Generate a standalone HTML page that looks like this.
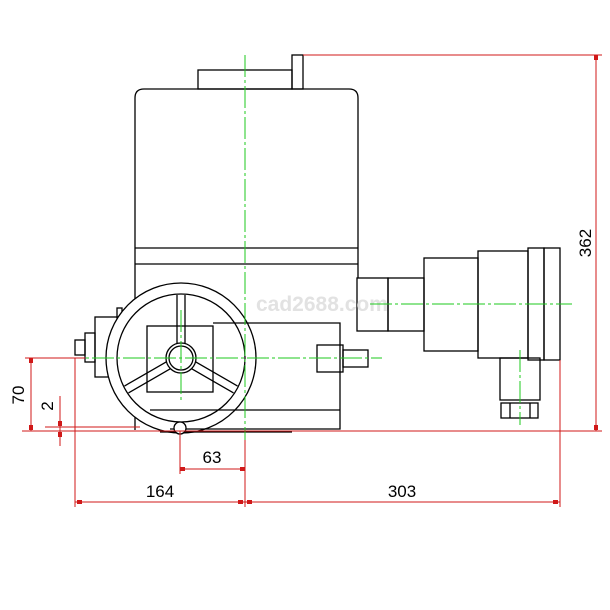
<!DOCTYPE html>
<html><head><style>body{margin:0;background:#fff}svg{display:block}</style></head><body>
<svg width="610" height="610" viewBox="0 0 610 610" xmlns="http://www.w3.org/2000/svg">
<rect width="610" height="610" fill="#fff"/>
<g fill="none" stroke="#000" stroke-width="1.3">
<path d="M135,430 V98 Q135,89 144,89 H349 Q358,89 358,98 V278"/>
<line x1="135" y1="248" x2="358" y2="248"/><line x1="135" y1="264" x2="358" y2="264"/>
<rect x="198" y="70" width="94" height="19"/><rect x="292" y="55" width="11" height="34"/>
<rect x="357" y="278" width="31" height="53"/><rect x="388" y="278" width="36" height="53"/>
<rect x="424" y="258" width="54" height="93"/><rect x="478" y="251" width="50" height="107"/>
<rect x="528" y="248" width="16" height="112"/><rect x="544" y="248" width="16" height="112"/>
<rect x="500" y="358" width="40" height="42"/><rect x="501" y="403" width="37" height="15"/>
<line x1="510" y1="403" x2="510" y2="418"/><line x1="530" y1="403" x2="530" y2="418"/>
<rect x="317" y="345" width="26" height="27"/><rect x="343" y="350" width="25" height="17"/>
<rect x="95" y="317" width="30" height="60"/><rect x="85" y="333" width="10" height="29"/><rect x="75" y="340" width="10" height="15"/>
<rect x="117" y="308" width="5" height="10"/>
<circle cx="181" cy="358" r="75" fill="#fff"/>
<path d="M213,323 H340 V429 H170"/><line x1="150" y1="410" x2="340" y2="410"/>
<line x1="160" y1="432" x2="292" y2="432"/>
<rect x="147" y="326" width="66" height="66"/>
<circle cx="181" cy="358" r="64"/>
<g transform="translate(181,358)">
<path d="M-4,-14 V-63 M4,-14 V-63"/>
<g transform="rotate(120)"><path d="M-4,-14 V-63 M4,-14 V-63"/></g>
<g transform="rotate(240)"><path d="M-4,-14 V-63 M4,-14 V-63"/></g>
<circle r="15" fill="#fff"/><circle r="12"/>
</g>
<circle cx="180" cy="428" r="6" fill="#fff"/>
</g>
<text x="256" y="311" font-family="Liberation Sans, sans-serif" font-weight="bold" font-size="21" fill="#e2e2e2">cad2688.com</text>
<g stroke="#1ec81e" stroke-width="1" stroke-dasharray="22,3,3,3" fill="none">
<line x1="245" y1="55" x2="245" y2="440"/>
<line x1="30" y1="358" x2="382" y2="358"/>
<line x1="370" y1="304" x2="572" y2="304"/>
<line x1="520" y1="350" x2="520" y2="425"/>
<line x1="181" y1="310" x2="181" y2="400"/>
</g>
<g stroke="#d01818" stroke-width="1" fill="none">
<line x1="303" y1="55" x2="602" y2="55"/>
<line x1="22" y1="431" x2="602" y2="431"/>
<line x1="596" y1="55" x2="596" y2="431"/>
<line x1="25" y1="358" x2="85" y2="358"/>
<line x1="31" y1="358" x2="31" y2="431"/>
<line x1="60" y1="396" x2="60" y2="446"/>
<line x1="45" y1="427" x2="140" y2="427"/>
<line x1="75" y1="358" x2="75" y2="507"/>
<line x1="245" y1="440" x2="245" y2="507"/>
<line x1="180" y1="431" x2="180" y2="474"/>
<line x1="560" y1="360" x2="560" y2="507"/>
<line x1="180" y1="469" x2="245" y2="469"/>
<line x1="75" y1="502" x2="560" y2="502"/>
</g>
<g fill="#d01818">
<rect x="594" y="55" width="4" height="5"/><rect x="594" y="425" width="4" height="5"/>
<rect x="29" y="358" width="4" height="5"/><rect x="29" y="425" width="4" height="5"/>
<rect x="58" y="421" width="4" height="5"/><rect x="58" y="432" width="4" height="5"/>
<rect x="180" y="467" width="5" height="4"/><rect x="240" y="467" width="5" height="4"/>
<rect x="77" y="500" width="5" height="4"/><rect x="238" y="500" width="5" height="4"/>
<rect x="247" y="500" width="5" height="4"/><rect x="553" y="500" width="5" height="4"/>
</g>
<g font-family="Liberation Sans, sans-serif" font-size="17" fill="#000" text-anchor="middle">
<text x="212" y="463">63</text><text x="160" y="497">164</text><text x="402" y="497">303</text>
<text transform="translate(591,243) rotate(-90)">362</text>
<text transform="translate(24,395) rotate(-90)">70</text>
<text transform="translate(53,406) rotate(-90)">2</text>
</g>
</svg>
</body></html>
